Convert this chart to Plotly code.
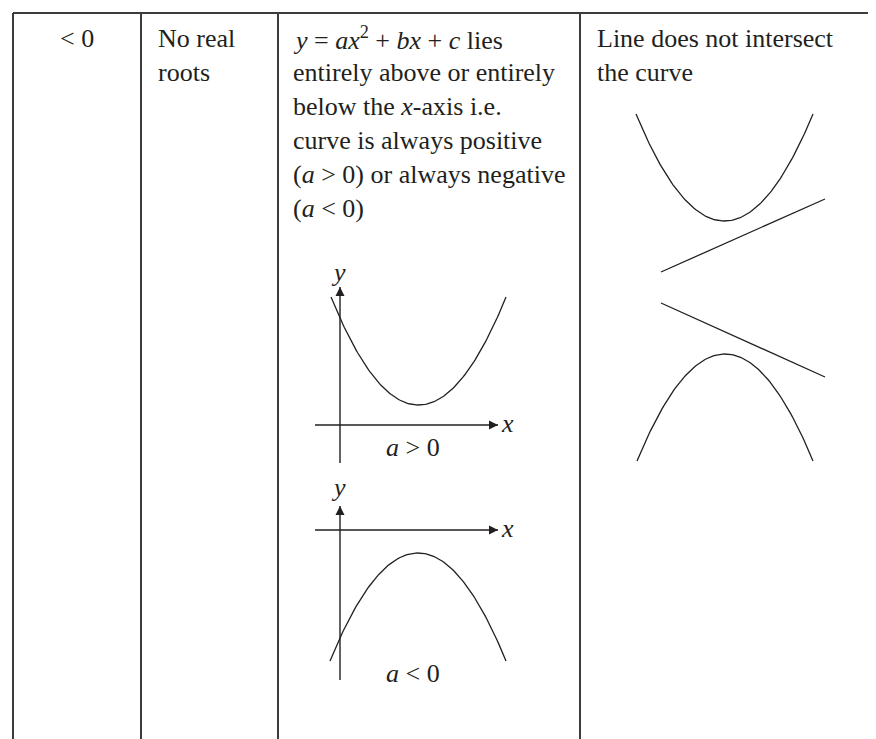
import plotly.graph_objects as go
import numpy as np

# Tabellenraster (Pixel-Koordinaten, y nach unten)
col_edges = [5, 133, 270, 572, 873]
table_top = 5
table_bottom = 739

# Zelltexte: Position, Ausrichtung, Zeilen
cell_x = [69, 148, 283, 587]
cell_align = ["center", "left", "left", "left"]
cell_lines = [
    ["&lt; 0"],
    ["No real", "roots"],
    [
        "<i>y</i> = <i>ax</i><sup>2</sup> + <i>bx</i> + <i>c</i> lies",
        "entirely above or entirely",
        "below the <i>x</i>-axis i.e.",
        "curve is always positive",
        "(<i>a</i> &gt; 0) or always negative",
        "(<i>a</i> &lt; 0)",
    ],
    ["Line does not intersect", "the curve"],
]
first_baseline = 38
line_gap = 34

# Parabeln: linker Endpunkt, Scheitel, rechter Endpunkt
parabola_left = [(323, 289), (322, 653), (628, 106), (629, 453)]
parabola_vertex = [(412, 397), (410, 545), (718, 213), (717, 346)]
parabola_right = [(498, 289), (498, 653), (805, 106), (805, 453)]

# Geraden in der rechten Spalte
line_start = [(653, 264), (653, 295)]
line_end = [(817, 191), (817, 369)]

# Koordinatenachsen der kleinen Skizzen: (Start, Pfeilspitze)
axis_from = [(332, 455), (307, 417), (332, 672), (307, 522)]
axis_to = [(332, 279), (490, 417), (332, 498), (490, 522)]
axis_arrow = ["arrow-up", "arrow-right", "arrow-up", "arrow-right"]

# Achsenbeschriftungen
label_text = ["<i>y</i>", "<i>x</i>", "<i>a</i> &gt; 0", "<i>y</i>", "<i>x</i>", "<i>a</i> &lt; 0"]
label_pos = [(330, 264), (499, 415), (405, 439), (330, 479), (499, 520), (405, 665)]

font_family = "Liberation Serif"
ink = "#231f20"

fig = go.Figure()

for p0, pv, p1 in zip(parabola_left, parabola_vertex, parabola_right):
    coef = np.polyfit([p0[0], pv[0], p1[0]], [p0[1], pv[1], p1[1]], 2)
    xs = np.linspace(p0[0], p1[0], 120)
    fig.add_trace(go.Scatter(x=xs, y=np.polyval(coef, xs), mode="lines",
                             line=dict(color=ink, width=1.3), hoverinfo="skip"))

for s, e in zip(line_start, line_end):
    fig.add_trace(go.Scatter(x=[s[0], e[0]], y=[s[1], e[1]], mode="lines",
                             line=dict(color=ink, width=1.3), hoverinfo="skip"))

# Achsen der Skizzen mit Pfeilspitzen
for a, b, sym in zip(axis_from, axis_to, axis_arrow):
    fig.add_trace(go.Scatter(x=[a[0], b[0]], y=[a[1], b[1]], mode="lines",
                             line=dict(color=ink, width=1.4), hoverinfo="skip"))
    fig.add_trace(go.Scatter(x=[b[0]], y=[b[1]], mode="markers",
                             marker=dict(symbol=sym, size=9, color=ink, line=dict(width=0)),
                             hoverinfo="skip"))

# Tabellenlinien
for xe in col_edges:
    fig.add_shape(type="line", x0=xe, x1=xe, y0=table_top, y1=table_bottom,
                  line=dict(color="#3c3c3c", width=2))
fig.add_shape(type="line", x0=col_edges[0], x1=col_edges[-1], y0=table_top, y1=table_top,
              line=dict(color="#3c3c3c", width=2))

# Zelltexte
for cx, al, lines in zip(cell_x, cell_align, cell_lines):
    for i, t in enumerate(lines):
        fig.add_annotation(x=cx, y=first_baseline + i * line_gap - 8, text=t,
                           xref="x", yref="y", showarrow=False,
                           xanchor="center" if al == "center" else "left",
                           yanchor="middle",
                           font=dict(family=font_family, size=26, color=ink))

for t, (lx, ly) in zip(label_text, label_pos):
    fig.add_annotation(x=lx, y=ly, text=t, xref="x", yref="y", showarrow=False,
                       xanchor="center", yanchor="middle",
                       font=dict(family=font_family, size=26, color=ink))

fig.update_layout(
    width=876, height=739,
    margin=dict(l=0, r=0, t=0, b=0),
    plot_bgcolor="white", paper_bgcolor="white",
    showlegend=False,
    font=dict(family=font_family),
    xaxis=dict(range=[0, 876], visible=False, fixedrange=True),
    yaxis=dict(range=[739, 0], visible=False, fixedrange=True),
)

fig.write_html("out.html")
